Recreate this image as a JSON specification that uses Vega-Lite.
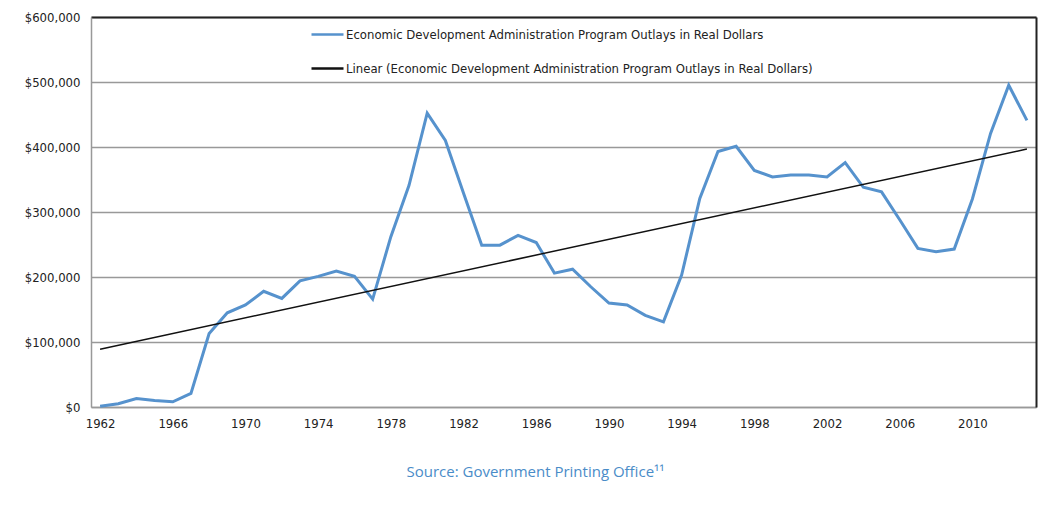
{
  "$schema": "https://vega.github.io/schema/vega-lite/v6.json",
  "width": 945,
  "height": 390,
  "autosize": {"type": "none"},
  "padding": {"left": 91, "top": 17, "right": 15, "bottom": 101},
  "background": "white",
  "config": {"font": "DejaVu Sans Condensed", "view": {"stroke": null}},
  "data": {"values": [
    {"year": 1962, "outlays": 1000}, {"year": 1963, "outlays": 5000}, {"year": 1964, "outlays": 13000},
    {"year": 1965, "outlays": 10000}, {"year": 1966, "outlays": 8000}, {"year": 1967, "outlays": 21000},
    {"year": 1968, "outlays": 113000}, {"year": 1969, "outlays": 145000}, {"year": 1970, "outlays": 157000},
    {"year": 1971, "outlays": 178000}, {"year": 1972, "outlays": 167000}, {"year": 1973, "outlays": 194000},
    {"year": 1974, "outlays": 201000}, {"year": 1975, "outlays": 209000}, {"year": 1976, "outlays": 201000},
    {"year": 1977, "outlays": 166000}, {"year": 1978, "outlays": 262000}, {"year": 1979, "outlays": 341000},
    {"year": 1980, "outlays": 452000}, {"year": 1981, "outlays": 410000}, {"year": 1982, "outlays": 329000},
    {"year": 1983, "outlays": 249000}, {"year": 1984, "outlays": 249000}, {"year": 1985, "outlays": 264000},
    {"year": 1986, "outlays": 253000}, {"year": 1987, "outlays": 206000}, {"year": 1988, "outlays": 212000},
    {"year": 1989, "outlays": 185000}, {"year": 1990, "outlays": 160000}, {"year": 1991, "outlays": 157000},
    {"year": 1992, "outlays": 141000}, {"year": 1993, "outlays": 131000}, {"year": 1994, "outlays": 203000},
    {"year": 1995, "outlays": 321000}, {"year": 1996, "outlays": 393000}, {"year": 1997, "outlays": 401000},
    {"year": 1998, "outlays": 364000}, {"year": 1999, "outlays": 354000}, {"year": 2000, "outlays": 357000},
    {"year": 2001, "outlays": 357000}, {"year": 2002, "outlays": 354000}, {"year": 2003, "outlays": 376000},
    {"year": 2004, "outlays": 338000}, {"year": 2005, "outlays": 331000}, {"year": 2006, "outlays": 288000},
    {"year": 2007, "outlays": 244000}, {"year": 2008, "outlays": 239000}, {"year": 2009, "outlays": 243000},
    {"year": 2010, "outlays": 320000}, {"year": 2011, "outlays": 421000}, {"year": 2012, "outlays": 495000},
    {"year": 2013, "outlays": 441000}
  ]},
  "layer": [
    {
      "mark": {"type": "line", "strokeWidth": 3},
      "encoding": {
        "x": {
          "field": "year", "type": "quantitative",
          "scale": {"domain": [1961.5, 2013.5], "nice": false, "zero": false},
          "axis": {
            "orient": "bottom",
            "values": [1962, 1966, 1970, 1974, 1978, 1982, 1986, 1990, 1994, 1998, 2002, 2006, 2010],
            "format": "d", "grid": false, "ticks": false,
            "domainColor": "#999999", "domainWidth": 1.5,
            "labelFont": "DejaVu Sans Condensed", "labelFontSize": 13, "labelColor": "#222222", "labelPadding": 10,
            "title": "Source: Government Printing Office¹¹",
            "titleFont": "Open Sans", "titleFontSize": 15, "titleFontWeight": "normal",
            "titleColor": "#4a8cc8", "titlePadding": 34, "titleX": 444
          }
        },
        "y": {
          "field": "outlays", "type": "quantitative",
          "scale": {"domain": [0, 600000], "nice": false},
          "axis": {
            "orient": "left",
            "values": [0, 100000, 200000, 300000, 400000, 500000, 600000],
            "format": "$,.0f", "grid": true, "gridColor": "#999999", "gridWidth": 1.5,
            "ticks": false, "domainColor": "#999999", "domainWidth": 1.5,
            "labelFont": "DejaVu Sans Condensed", "labelFontSize": 13, "labelColor": "#222222", "labelPadding": 11,
            "title": null
          }
        },
        "color": {
          "datum": "Economic Development Administration Program Outlays in Real Dollars",
          "type": "nominal",
          "scale": {
            "domain": [
              "Economic Development Administration Program Outlays in Real Dollars",
              "Linear (Economic Development Administration Program Outlays in Real Dollars)"
            ],
            "range": ["#5692cd", "#111111"]
          },
          "legend": {
            "orient": "none", "legendX": 219, "legendY": 0, "title": null, "padding": 0,
            "symbolType": "stroke", "symbolSize": 1024, "symbolStrokeWidth": 2.5,
            "labelFont": "DejaVu Sans Condensed", "labelFontSize": 13, "labelColor": "#222222",
            "labelOffset": 1, "rowPadding": 9, "labelLimit": 0
          }
        }
      }
    },
    {
      "transform": [{"regression": "outlays", "on": "year"}],
      "mark": {"type": "line", "strokeWidth": 1.5},
      "encoding": {
        "x": {
          "field": "year", "type": "quantitative",
          "axis": {"orient": "top", "domainColor": "#222222", "domainWidth": 2, "labels": false, "ticks": false, "grid": false, "title": null}
        },
        "y": {
          "field": "outlays", "type": "quantitative",
          "axis": {"orient": "right", "domainColor": "#222222", "domainWidth": 2, "labels": false, "ticks": false, "grid": false, "title": null}
        },
        "color": {"datum": "Linear (Economic Development Administration Program Outlays in Real Dollars)", "type": "nominal"}
      }
    }
  ],
  "resolve": {"axis": {"x": "independent", "y": "independent"}}
}
